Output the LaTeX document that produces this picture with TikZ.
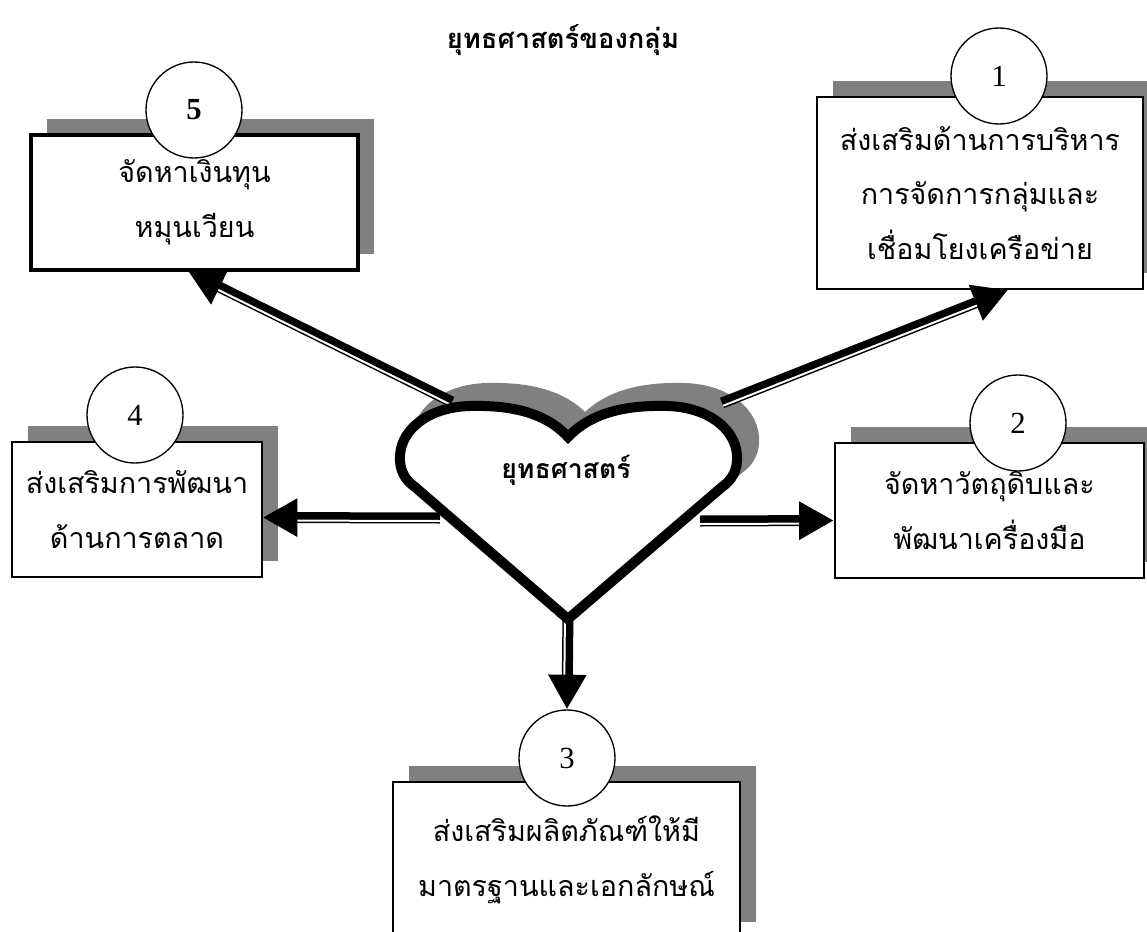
\documentclass[tikz,border=0pt]{standalone}
\usepackage{fontspec}
\setmainfont{Liberation Serif}
\newfontfamily\thaifont[Script=Thai]{Loma}
\usepackage{tikz}
\usetikzlibrary{arrows.meta, calc, shadows}
\definecolor{shadowgray}{HTML}{808080}
\newcommand{\heartpath}{(568,437) .. controls (545,412) and (510,405) .. (470,406)
    .. controls (430,407) and (402,428) .. (400,455)
    .. controls (399,470) and (405,480) .. (415,487) -- (568,619) -- (722,487)
    .. controls (732,480) and (738,470) .. (737,455)
    .. controls (735,428) and (707,407) .. (667,406)
    .. controls (627,405) and (592,412) .. (568,437) -- cycle}

\begin{document}
\begin{tikzpicture}[
    x=0.75pt, y=-0.75pt,
    box/.style={
        draw, line width=1.5pt, fill=white,
        rectangle, align=center, inner sep=0pt,
        font=\thaifont\fontsize{21.5pt}{41pt}\selectfont,
        general shadow={fill=shadowgray, shadow xshift=12pt, shadow yshift=12pt},
    },
    numcirc/.style={
        draw, line width=1pt, fill=white, circle,
        minimum size=72pt, inner sep=0pt,
        font=\fontsize{23pt}{26pt}\selectfont,
    },
    shaft/.style={line width=8.25pt, -{Triangle[length=26pt, width=27pt]}},
    gap/.style={white, line width=1.5pt},
]
\useasboundingbox (0,0) rectangle (1147,932);
\clip (0,0) rectangle (1147,932);

% Title
\node[font=\thaifont\bfseries\fontsize{20.5pt}{24pt}\selectfont] (title) at (563,40) {ยุทธศาสตร์ของกลุ่ม};

% Strategy boxes
\node[box, line width=3pt, minimum width=245pt, minimum height=101pt] (b5) at (194.5,202.5) {จัดหาเงินทุน\\หมุนเวียน};
\node[box, minimum width=244pt, minimum height=144pt] (b1) at (980,193) {ส่งเสริมด้านการบริหาร\\การจัดการกลุ่มและ\\เชื่อมโยงเครือข่าย};
\node[box, minimum width=187pt, minimum height=101pt] (b4) at (137,509.5) {ส่งเสริมการพัฒนา\\ด้านการตลาด};
\node[box, minimum width=232pt, minimum height=101pt] (b2) at (989.5,510.5) {จัดหาวัตถุดิบและ\\พัฒนาเครื่องมือ};
\node[box, minimum width=260pt, minimum height=117pt] (b3) at (566.5,860) {ส่งเสริมผลิตภัณฑ์ให้มี\\มาตรฐานและเอกลักษณ์};

% Numbers
\node[numcirc, font=\bfseries\fontsize{23pt}{26pt}\selectfont] (c5) at (194,110) {5};
\node[numcirc] (c1) at (999,76) {1};
\node[numcirc] (c4) at (135,415) {4};
\node[numcirc] (c2) at (1018,423) {2};
\node[numcirc] (c3) at (567,758) {3};

% Heart shadow
\path[fill=shadowgray, draw=shadowgray, line width=7.5pt, shift={(17,-18)}] \heartpath;

% Arrows
\coordinate (htl) at (452,402);
\coordinate (htr) at (722,403);
\coordinate (hl) at (440,518);
\coordinate (hr) at (700,521);
\coordinate (hb) at (568,612);
\coordinate (t5) at ($(b5.south)+(-6,0)$);
\coordinate (t1) at ($(b1.south)+(28,0)$);
\coordinate (t4) at ($(b4.east)+(0,8)$);
\coordinate (t2) at ($(b2.west)+(0,10)$);
\coordinate (t3) at (c3.north);
\coordinate (k5) at ($(t5)!26pt!(htl)$);
\coordinate (k1) at ($(t1)!26pt!(htr)$);
\coordinate (k4) at ($(t4)!26pt!(hl)$);
\coordinate (k2) at ($(t2)!26pt!(hr)$);
\coordinate (k3) at ($(t3)!26pt!(hb)$);

\draw[shaft] (htl) -- (t5);
\draw[gap] ($(htl)!2.25pt!90:(t5)$) -- ($(k5)!2.25pt!-90:(htl)$);
\draw[shaft] (htr) -- (t1);
\draw[gap] ($(htr)!-2.25pt!90:(t1)$) -- ($(k1)!-2.25pt!-90:(htr)$);
\draw[shaft] (hl) -- (t4);
\draw[gap] ($(hl)!2.25pt!90:(t4)$) -- ($(k4)!2.25pt!-90:(hl)$);
\draw[shaft] (hr) -- (t2);
\draw[gap] ($(hr)!-2.25pt!90:(t2)$) -- ($(k2)!-2.25pt!-90:(hr)$);
\draw[shaft] (hb) -- (t3);
\draw[gap] ($(hb)!-2.25pt!90:(t3)$) -- ($(k3)!-2.25pt!-90:(hb)$);

% Heart
\draw[fill=white, line width=7.5pt] \heartpath;
\node[font=\thaifont\bfseries\fontsize{20pt}{24pt}\selectfont] (hlabel) at (566,470) {ยุทธศาสตร์};

\end{tikzpicture}
\end{document}
